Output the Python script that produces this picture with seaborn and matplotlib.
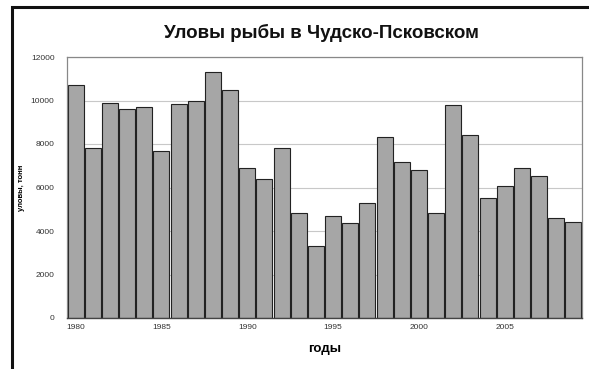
import numpy as np
import pandas as pd
import seaborn as sns
import matplotlib.pyplot as plt
import matplotlib.patches as mpatches

years = list(range(1980, 2010))
catch = [10700, 7800, 9900, 9600, 9700, 7700, 9850, 10000, 11300, 10500,
         6900, 6400, 7800, 4850, 3300, 4700, 4350, 5300, 8300, 7150,
         6800, 4850, 9800, 8400, 5500, 6050, 6900, 6550, 4600, 4400]
yticks = [0, 2000, 4000, 6000, 8000, 10000, 12000]
xlabels = ["1980", "1985", "1990", "1995", "2000", "2005"]

df = pd.DataFrame({"год": years, "улов": catch})

sns.set_style("white")
plt.rcParams['font.family'] = ['Liberation Sans', 'DejaVu Sans']

fig = plt.figure(figsize=(5.89, 3.69), dpi=100)
ax = fig.add_axes([67/589, 1-318/369, (582-67)/589, (318-57)/369])

sns.barplot(data=df, x="год", y="улов", color="#a6a6a6", saturation=1,
            edgecolor="#222222", linewidth=0.8, width=0.94, ax=ax)

ax.set_ylim(0, 12000)
ax.set_xlim(-0.5, len(years) - 0.5)
ax.set_yticks(yticks)
ax.set_yticklabels([str(v) for v in yticks], fontsize=6, color="#333333")
ax.tick_params(axis="y", length=0, pad=9)
ax.yaxis.grid(True, color="#c8c8c8", linewidth=0.8)
ax.set_axisbelow(True)

# ticks on category edges, labels every 5 years under bars
ax.set_xticks(np.arange(-0.5, len(years), 1))
ax.set_xticklabels([])
ax.tick_params(axis="x", which="major", length=3, width=0.8, color="#555555")
ax.set_xticks([years.index(int(s)) for s in xlabels], minor=True)
ax.set_xticklabels(xlabels, minor=True, fontsize=6, color="#333333")
ax.tick_params(axis="x", which="minor", length=0, pad=4)

for s in ["top", "right", "left"]:
    ax.spines[s].set_color("#888888")
    ax.spines[s].set_linewidth(0.9)
ax.spines["bottom"].set_color("#444444")
ax.spines["bottom"].set_linewidth(1.0)

ax.set_xlabel("годы", fontsize=9.5, fontweight="bold", labelpad=9, color="black")
ax.set_ylabel("уловы, тонн", fontsize=5.5, fontweight="bold", labelpad=4, color="black")

fig.text(321/589, 1-33/369, "Уловы рыбы в Чудско-Псковском", ha="center", va="center",
         fontsize=13.5, fontweight="bold", color="#111111")

# outer frame of the original screenshot
frame = mpatches.Rectangle((12/589, -0.1), 1.0, 1-7.5/369 + 0.1, transform=fig.transFigure,
                           fill=False, edgecolor="#111111", linewidth=2.2, clip_on=False)
fig.add_artist(frame)

fig.savefig("out.png", dpi=100)
